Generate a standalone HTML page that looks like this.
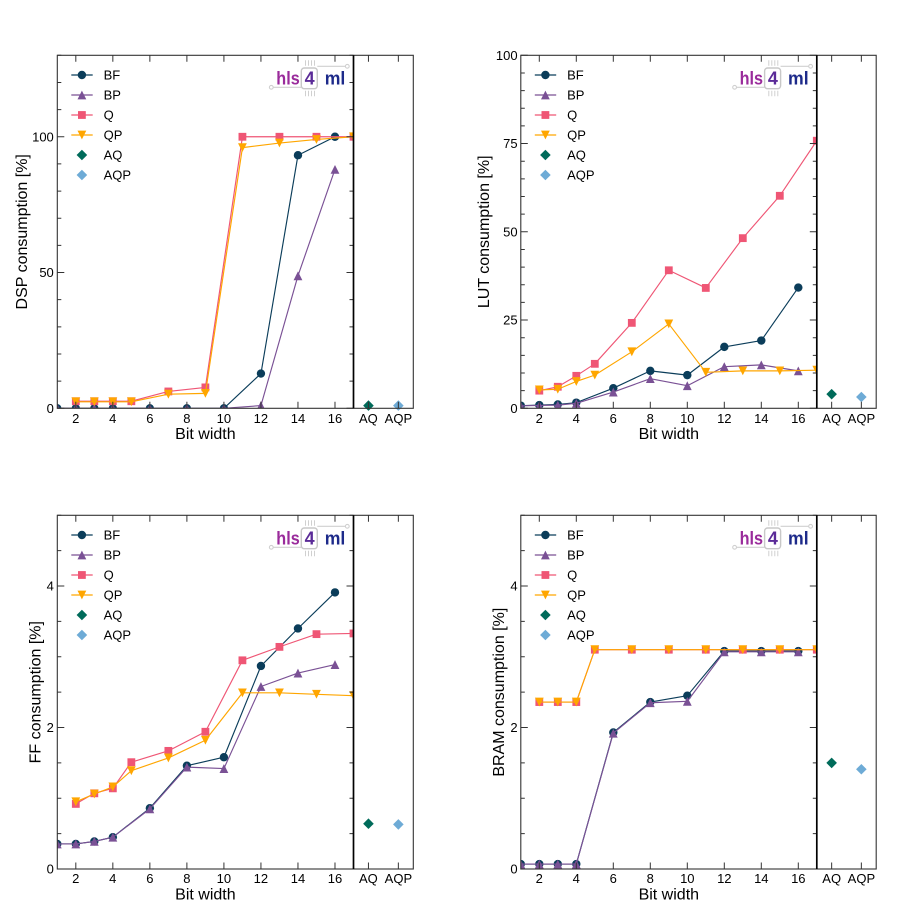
<!DOCTYPE html>
<html><head><meta charset="utf-8">
<style>
html,body{margin:0;padding:0;background:#fff;}
svg{display:block;}
text{font-family:"Liberation Sans",Arial,sans-serif;fill:#000;}
.tk{font-size:13px;}
.lab{font-size:16px;}
.lg{font-size:13px;}
.logo{font-weight:bold;font-size:18px;}
</style></head><body>
<svg id="s" width="923" height="920" viewBox="0 0 923 920" xmlns="http://www.w3.org/2000/svg">
<defs>
<clipPath id="c0"><rect x="57.3" y="55.3" width="296.2" height="353"/></clipPath>
<clipPath id="c1"><rect x="520.8" y="55.3" width="296" height="353"/></clipPath>
<clipPath id="c2"><rect x="57.3" y="515.3" width="296.2" height="353.7"/></clipPath>
<clipPath id="c3"><rect x="520.8" y="515.3" width="296" height="353.7"/></clipPath>
<g id="logo">
<path d="M-82.2,32 H-52.2 M-36.2,11 H-6.2" stroke="#d0d0d0" stroke-width="1.2" fill="none"/>
<circle cx="-82.2" cy="32" r="1.9" fill="#fff" stroke="#d0d0d0" stroke-width="1.1"/>
<circle cx="-6.2" cy="11" r="1.9" fill="#fff" stroke="#d0d0d0" stroke-width="1.1"/>
<path d="M-48,5 V10.5 M-45,5 V10.5 M-42,5 V10.5 M-39,5 V10.5 M-48,35.5 V41 M-45,35.5 V41 M-42,35.5 V41 M-39,35.5 V41" stroke="#d0d0d0" stroke-width="1"/>
<rect x="-52.2" y="12.7" width="16" height="20.7" rx="3" fill="#fff" stroke="#c8c8c8" stroke-width="1.4"/>
<text class="logo" x="-77.2" y="29.2" textLength="23.4" lengthAdjust="spacingAndGlyphs" style="fill:#9a2b9b">hls</text>
<text class="logo" x="-43.9" y="29.2" text-anchor="middle" style="fill:#5b2b98">4</text>
<text class="logo" x="-28.8" y="29.2" textLength="20.6" lengthAdjust="spacingAndGlyphs" style="fill:#1d2a8a">ml</text>
</g>
</defs>
<g id="g"></g>

<!-- Panel TL -->
<use href="#logo" transform="translate(353.5,55.3)"/>
<g class="tk" text-anchor="end">
<text x="53.8" y="412.9">0</text><text x="53.8" y="277.1">50</text><text x="53.8" y="141.4">100</text>
</g>
<g class="tk" text-anchor="middle">
<text x="75.8" y="423">2</text><text x="112.8" y="423">4</text><text x="149.9" y="423">6</text><text x="186.9" y="423">8</text><text x="223.9" y="423">10</text><text x="260.9" y="423">12</text><text x="298" y="423">14</text><text x="335" y="423">16</text><text x="368.4" y="423">AQ</text><text x="398.4" y="423">AQP</text>
</g>
<text class="lab" x="205.4" y="439" text-anchor="middle">Bit width</text>
<text class="lab" transform="translate(27,231.8) rotate(-90)" text-anchor="middle">DSP consumption [%]</text>
<g class="lg">
<text x="103.6" y="79.7">BF</text><text x="103.6" y="99.7">BP</text><text x="103.6" y="119.7">Q</text><text x="103.6" y="139.7">QP</text><text x="103.6" y="159.7">AQ</text><text x="103.6" y="179.7">AQP</text>
</g>

<!-- Panel TR -->
<use href="#logo" transform="translate(816.8,55.3)"/>
<g class="tk" text-anchor="end">
<text x="517.6" y="412.9">0</text><text x="517.6" y="324.7">25</text><text x="517.6" y="236.4">50</text><text x="517.6" y="148.2">75</text><text x="517.6" y="59.9">100</text>
</g>
<g class="tk" text-anchor="middle">
<text x="539.3" y="423">2</text><text x="576.3" y="423">4</text><text x="613.3" y="423">6</text><text x="650.3" y="423">8</text><text x="687.3" y="423">10</text><text x="724.3" y="423">12</text><text x="761.3" y="423">14</text><text x="798.3" y="423">16</text><text x="831.7" y="423">AQ</text><text x="861.4" y="423">AQP</text>
</g>
<text class="lab" x="668.8" y="439" text-anchor="middle">Bit width</text>
<text class="lab" transform="translate(489,231.8) rotate(-90)" text-anchor="middle">LUT consumption [%]</text>
<g class="lg">
<text x="567.1" y="79.7">BF</text><text x="567.1" y="99.7">BP</text><text x="567.1" y="119.7">Q</text><text x="567.1" y="139.7">QP</text><text x="567.1" y="159.7">AQ</text><text x="567.1" y="179.7">AQP</text>
</g>

<!-- Panel BL -->
<use href="#logo" transform="translate(353.5,515.3)"/>
<g class="tk" text-anchor="end">
<text x="53.8" y="873.6">0</text><text x="53.8" y="732.1">2</text><text x="53.8" y="590.6">4</text>
</g>
<g class="tk" text-anchor="middle">
<text x="75.8" y="883">2</text><text x="112.8" y="883">4</text><text x="149.9" y="883">6</text><text x="186.9" y="883">8</text><text x="223.9" y="883">10</text><text x="260.9" y="883">12</text><text x="298" y="883">14</text><text x="335" y="883">16</text><text x="368.4" y="883">AQ</text><text x="398.4" y="883">AQP</text>
</g>
<text class="lab" x="205.4" y="899.5" text-anchor="middle">Bit width</text>
<text class="lab" transform="translate(40.5,692.2) rotate(-90)" text-anchor="middle">FF consumption [%]</text>
<g class="lg">
<text x="103.6" y="539.7">BF</text><text x="103.6" y="559.7">BP</text><text x="103.6" y="579.7">Q</text><text x="103.6" y="599.7">QP</text><text x="103.6" y="619.7">AQ</text><text x="103.6" y="639.7">AQP</text>
</g>

<!-- Panel BR -->
<use href="#logo" transform="translate(816.8,515.3)"/>
<g class="tk" text-anchor="end">
<text x="517.6" y="873.6">0</text><text x="517.6" y="732.1">2</text><text x="517.6" y="590.6">4</text>
</g>
<g class="tk" text-anchor="middle">
<text x="539.3" y="883">2</text><text x="576.3" y="883">4</text><text x="613.3" y="883">6</text><text x="650.3" y="883">8</text><text x="687.3" y="883">10</text><text x="724.3" y="883">12</text><text x="761.3" y="883">14</text><text x="798.3" y="883">16</text><text x="831.7" y="883">AQ</text><text x="861.4" y="883">AQP</text>
</g>
<text class="lab" x="668.8" y="899.5" text-anchor="middle">Bit width</text>
<text class="lab" transform="translate(504,692.2) rotate(-90)" text-anchor="middle">BRAM consumption [%]</text>
<g class="lg">
<text x="567.1" y="539.7">BF</text><text x="567.1" y="559.7">BP</text><text x="567.1" y="579.7">Q</text><text x="567.1" y="599.7">QP</text><text x="567.1" y="619.7">AQ</text><text x="567.1" y="639.7">AQP</text>
</g>
</svg>
<script>
(function(){
const NS="http://www.w3.org/2000/svg";
const G=document.getElementById('g');
function el(tag,a,p){const e=document.createElementNS(NS,tag);for(const k in a)e.setAttribute(k,a[k]);(p||G).appendChild(e);return e;}
const C={BF:'#0b3d5a',BP:'#7a5195',Q:'#ef5675',QP:'#ffa600',AQ:'#006b5a',AQP:'#6eabd6'};
const M={BF:'o',BP:'^',Q:'s',QP:'v',AQ:'D',AQP:'D'};
const xb=[1,2,3,4,6,8,10,12,14,16], xq=[2,3,4,5,7,9,11,13,15,17];
const P=[
{x0:57.3,x1:353.5,xs:413.3,y0:55.3,y1:408.3,ym:130,maj:[0,50,100],ms:10,clip:'c0',
 d:{BF:[0,0,0,0,0,0,0,12.8,93.2,100],BP:[0,0,0,0,0,0,0,1.0,48.8,88],
    Q:[2.6,2.6,2.6,2.6,6.2,7.7,100,100,100,100],QP:[2.4,2.4,2.4,2.4,5.2,5.5,96,97.7,99,100],AQ:1.0,AQP:1.0}},
{x0:520.8,x1:816.8,xs:876.2,y0:55.3,y1:408.3,ym:100,maj:[0,25,50,75,100],ms:5,clip:'c1',
 d:{BF:[0.75,0.9,1.1,1.6,5.7,10.6,9.4,17.4,19.2,34.2],BP:[0.7,0.8,0.9,1.4,4.6,8.4,6.4,11.8,12.3,10.6],
    Q:[5.0,6.1,9.2,12.6,24.2,39.1,34.1,48.2,60.2,75.8],QP:[5.2,5.4,7.6,9.4,16.0,23.9,10.2,10.6,10.6,10.8],AQ:4.0,AQP:3.2}},
{x0:57.3,x1:353.5,xs:413.3,y0:515.3,y1:869,ym:5,maj:[0,2,4],ms:0.5,clip:'c2',
 d:{BF:[0.354,0.354,0.39,0.45,0.86,1.46,1.58,2.87,3.40,3.91],BP:[0.354,0.354,0.39,0.45,0.85,1.44,1.42,2.58,2.77,2.89],
    Q:[0.92,1.07,1.14,1.51,1.67,1.94,2.95,3.14,3.32,3.33],QP:[0.95,1.06,1.16,1.39,1.57,1.82,2.49,2.49,2.47,2.45],AQ:0.64,AQP:0.63}},
{x0:520.8,x1:816.8,xs:876.2,y0:515.3,y1:869,ym:5,maj:[0,2,4],ms:0.5,clip:'c3',
 d:{BF:[0.07,0.07,0.07,0.07,1.93,2.36,2.45,3.08,3.08,3.08],BP:[0.07,0.07,0.07,0.07,1.92,2.35,2.37,3.07,3.07,3.07],
    Q:[2.36,2.36,2.36,3.10,3.10,3.10,3.10,3.10,3.10,3.10],QP:[2.36,2.36,2.36,3.10,3.10,3.10,3.10,3.10,3.10,3.10],AQ:1.5,AQP:1.41}}
];
function mk(t,x,y,c,p){
 const r=4.4;
 if(t==='o') el('circle',{cx:x,cy:y,r:4.2,fill:c},p);
 else if(t==='^') el('polygon',{points:`${x},${y-r} ${x-r},${y+r} ${x+r},${y+r}`,fill:c},p);
 else if(t==='v') el('polygon',{points:`${x},${y+r} ${x-r},${y-r} ${x+r},${y-r}`,fill:c},p);
 else if(t==='s') el('rect',{x:x-3.9,y:y-3.9,width:7.8,height:7.8,fill:c},p);
 else if(t==='D'){const d=5.3;el('polygon',{points:`${x},${y-d} ${x+d},${y} ${x},${y+d} ${x-d},${y}`,fill:c},p);}
}
P.forEach(p=>{
 const X=v=>p.x0+(v-1)/16*(p.x1-p.x0);
 const Y=v=>p.y1-v/p.ym*(p.y1-p.y0);
 const sw=p.xs-p.x1;
 const g=el('g',{'clip-path':`url(#${p.clip})`});
 ['BF','BP','Q','QP'].forEach(k=>{
  const xs=(k==='BF'||k==='BP')?xb:xq;
  const pts=p.d[k].map((v,i)=>`${X(xs[i]).toFixed(2)},${Y(v).toFixed(2)}`).join(' ');
  el('polyline',{points:pts,fill:'none',stroke:C[k],'stroke-width':1.15,'stroke-linejoin':'round'},g);
  p.d[k].forEach((v,i)=>mk(M[k],X(xs[i]),Y(v),C[k],g));
 });
 mk('D',p.x1+0.25*sw,Y(p.d.AQ),C.AQ);
 mk('D',p.x1+0.75*sw,Y(p.d.AQP),C.AQP);
 // legend
 const lx=p.x0+14,lx2=p.x0+35.4,mx=p.x0+24.6;
 ['BF','BP','Q','QP','AQ','AQP'].forEach((k,i)=>{
  const y=p.y0+19.7+20*i;
  if(i<4) el('line',{x1:lx,y1:y,x2:lx2,y2:y,stroke:C[k],'stroke-width':1.15});
  mk(M[k],mx,y,C[k]);
 });
 // ticks
 let d='';
 for(let v=2;v<=16;v+=2){const x=X(v);d+=`M${x},${p.y1}V${p.y1-6.5}M${x},${p.y0}V${p.y0+6.5}`;}
 [0.25,0.75].forEach(f=>{const x=p.x1+f*sw;d+=`M${x},${p.y1}V${p.y1-6.5}M${x},${p.y0}V${p.y0+6.5}`;});
 const n=Math.round(p.ym/p.ms);
 for(let i=0;i<=n;i++){const v=i*p.ms;const y=Y(v);const isMaj=p.maj.some(m=>Math.abs(m-v)<1e-6);const L=isMaj?7:4;
  d+=`M${p.x0},${y}H${p.x0+L}M${p.x1},${y}H${p.x1-L}`;}
 el('path',{d:d,stroke:'#333','stroke-width':1,fill:'none'});
 el('rect',{x:p.x0,y:p.y0,width:p.xs-p.x0,height:p.y1-p.y0,fill:'none',stroke:'#333','stroke-width':1.1});
 el('line',{x1:p.x1,y1:p.y0,x2:p.x1,y2:p.y1,stroke:'#000','stroke-width':1.7});
});
})();
</script>
</body></html>
